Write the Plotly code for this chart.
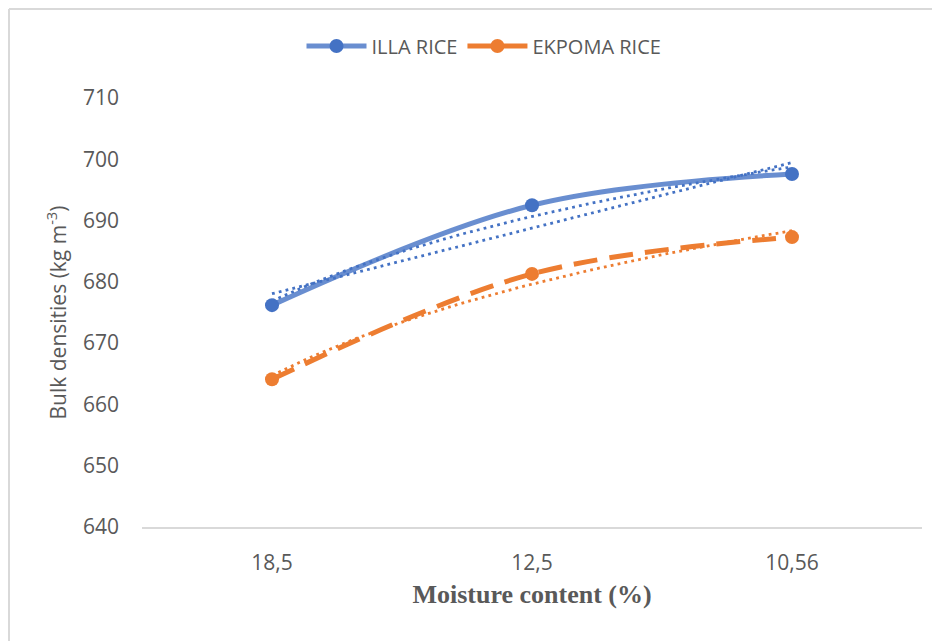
import numpy as np
import plotly.graph_objects as go

categories = ["18,5", "12,5", "10,56"]
illa_rice = [676.2, 692.5, 697.6]
ekpoma_rice = [664.1, 681.3, 687.3]
y_ticks = [640, 650, 660, 670, 680, 690, 700, 710]

BLUE = "#4472C4"
ORANGE = "#ED7D31"
GREY = "#595959"

pos = np.arange(1, len(categories) + 1, dtype=float)
grid = np.linspace(pos[0], pos[-1], 60)


def linear_trend(vals):
    k, b = np.polyfit(pos, vals, 1)
    return k * grid + b


def log_trend(vals):
    k, b = np.polyfit(np.log(pos), vals, 1)
    return k * np.log(grid) + b


DOT = "2.8px,4.2px"

fig = go.Figure()

# trendlines (dotted)
fig.add_trace(go.Scatter(x=grid, y=linear_trend(illa_rice), mode="lines",
                         line=dict(color=BLUE, width=2.8, dash=DOT),
                         showlegend=False, hoverinfo="skip"))
fig.add_trace(go.Scatter(x=grid, y=log_trend(illa_rice), mode="lines",
                         line=dict(color=BLUE, width=2.8, dash=DOT),
                         showlegend=False, hoverinfo="skip"))
fig.add_trace(go.Scatter(x=grid, y=log_trend(ekpoma_rice), mode="lines",
                         line=dict(color=ORANGE, width=2.8, dash=DOT),
                         showlegend=False, hoverinfo="skip"))

# main series
fig.add_trace(go.Scatter(x=pos, y=illa_rice, name="ILLA RICE", mode="lines+markers",
                         line=dict(color="rgba(68,114,196,0.8)", width=5, shape="spline", smoothing=1),
                         marker=dict(color=BLUE, size=14)))
fig.add_trace(go.Scatter(x=pos, y=ekpoma_rice, name="EKPOMA RICE", mode="lines+markers",
                         line=dict(color=ORANGE, width=5, dash="24px,12px", shape="spline", smoothing=1),
                         marker=dict(color=ORANGE, size=14)))

# the page body adds an 8px offset; coordinates below are relative to the figure
OFF = 8
W, H = 940 - OFF, 641 - OFF
L, R, T, B = 142 - OFF, W - (922 - OFF), 98 - OFF, H - (527 - OFF)
pw, ph = W - L - R, H - T - B


def px(xr):
    return (xr - OFF - L) / pw


def py(yr):
    return (H - B - (yr - OFF)) / ph


# outer chart border (top and left visible)
fig.add_shape(type="line", xref="paper", yref="paper", x0=px(9), x1=px(945), y0=py(9), y1=py(9),
              line=dict(color="#D9D9D9", width=2))
fig.add_shape(type="line", xref="paper", yref="paper", x0=px(9), x1=px(9), y0=py(9), y1=py(650),
              line=dict(color="#D9D9D9", width=2))

fig.update_layout(
    width=W, height=H,
    margin=dict(l=L, r=R, t=T, b=B),
    paper_bgcolor="white", plot_bgcolor="white",
    font=dict(family="Open Sans", size=21, color=GREY),
    showlegend=True,
    legend=dict(orientation="h", x=px(484), y=py(46), xanchor="center", yanchor="middle",
                font=dict(family="Open Sans", size=20, color=GREY), itemwidth=60,
                traceorder="normal"),
    xaxis=dict(range=[0.5, 3.5], tickmode="array", tickvals=list(pos), ticktext=categories,
               showgrid=False, zeroline=False, showline=True, linecolor="#D9D9D9", linewidth=2,
               ticks="", ticklabelstandoff=16, tickfont=dict(size=21),
               title=dict(text="<b>Moisture content (%)</b>", standoff=10,
                          font=dict(family="Liberation Serif", size=26, color=GREY))),
    yaxis=dict(range=[640, 710], tickmode="array", tickvals=y_ticks,
               showgrid=False, zeroline=False, showline=False, ticks="", ticklabelstandoff=22,
               tickfont=dict(size=21),
               title=dict(text="Bulk densities (kg m<sup>-3</sup>)", standoff=10,
                          font=dict(family="Open Sans", size=21, color=GREY))),
)

fig.write_html("out.html")
